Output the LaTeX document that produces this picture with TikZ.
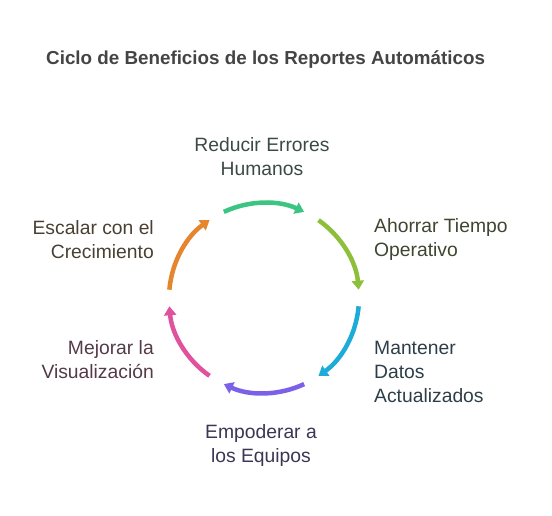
\documentclass[tikz,border=0pt]{standalone}
\usepackage{fontspec}
\setmainfont{Liberation Sans}
\usetikzlibrary{arrows.meta}

\definecolor{cycgreen}{HTML}{3CC582}
\definecolor{cyclime}{HTML}{8DBF3B}
\definecolor{cycblue}{HTML}{1EABDA}
\definecolor{cycpurple}{HTML}{7B61E8}
\definecolor{cycpink}{HTML}{E0529E}
\definecolor{cycorange}{HTML}{E5862F}
\definecolor{txtgreen}{HTML}{3B4A44}
\definecolor{txtlime}{HTML}{3E4630}
\definecolor{txtblue}{HTML}{2E3E48}
\definecolor{txtpurple}{HTML}{3A3654}
\definecolor{txtpink}{HTML}{553A48}
\definecolor{txtorange}{HTML}{4A3F33}
\definecolor{titlegray}{HTML}{444444}

\begin{document}
\begin{tikzpicture}[x=1pt, y=1pt,
    % Arc and text styles
    cyclearrow/.style={line width=4.5pt, -{Triangle[length=9pt, width=12pt]}},
    steplabel/.style={font=\fontsize{19.3}{24}\selectfont, inner sep=0pt},
    titletext/.style={font=\fontsize{18.8}{22}\selectfont\bfseries, text=titlegray, inner sep=0pt}
]
\useasboundingbox (0,0) rectangle (552,516);

% 1. Title
\node[titletext, anchor=west] (title) at (46,456) {Ciclo de Beneficios de los Reportes Automáticos};

% 2. Centre of the cycle
\coordinate (hub) at (264,218);

% 3. Arcs (clockwise)
\foreach \mid/\col in {90/cycgreen, 30/cyclime, -30/cycblue, -90/cycpurple, -150/cycpink, 150/cycorange}
  \draw[cyclearrow, draw=\col] ([shift={(\mid+25:95)}]hub)
    arc[start angle=\mid+25, end angle=\mid-25, radius=95];

% 4. Step labels
\node[steplabel, align=center, text=txtgreen] (reducir) at (262,359) {Reducir Errores\\Humanos};
\node[steplabel, align=left, anchor=west, text=txtlime] (ahorrar) at (374,276) {Ahorrar Tiempo\\Operativo};
\node[steplabel, align=left, anchor=west, text=txtblue] (mantener) at (374,144) {Mantener\\Datos\\Actualizados};
\node[steplabel, align=center, text=txtpurple] (empoderar) at (261,70) {Empoderar a\\los Equipos};
\node[steplabel, align=right, anchor=east, text=txtpink] (mejorar) at (154,156) {Mejorar la\\Visualización};
\node[steplabel, align=right, anchor=east, text=txtorange] (escalar) at (154,276) {Escalar con el\\Crecimiento};

\end{tikzpicture}
\end{document}
